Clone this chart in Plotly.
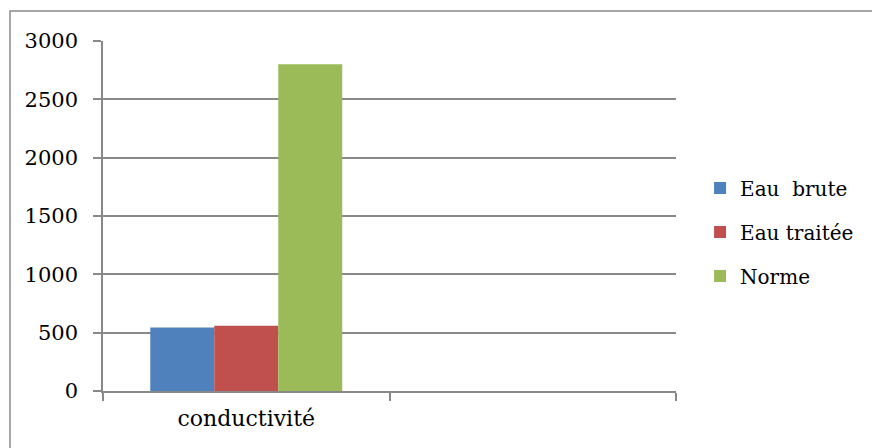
import plotly.graph_objects as go

# Categories and measured values
categories = ["conductivité", " "]
eau_brute = [545, None]
eau_traitee = [560, None]
norme = [2800, None]

series_names = ["Eau  brute", "Eau traitée", "Norme"]
series_values = [eau_brute, eau_traitee, norme]
series_colors = ["#4F81BD", "#C0504D", "#9BBB59"]

y_ticks = [0, 500, 1000, 1500, 2000, 2500, 3000]

GRID = "#898989"
FONT = "DejaVu Serif"

fig = go.Figure()
for name, vals, col in zip(series_names, series_values, series_colors):
    fig.add_trace(go.Bar(
        x=categories, y=vals, name=name,
        marker=dict(color=col, line=dict(width=0)),
        legendgroup=name,
    ))

fig.update_layout(
    width=872, height=448,
    margin=dict(l=103, r=196, t=41, b=57, autoexpand=False),
    paper_bgcolor="white", plot_bgcolor="white",
    barmode="group", bargap=0.33, bargroupgap=0,
    font=dict(family=FONT, size=21, color="black"),
    showlegend=True,
    legend=dict(
        x=1.042, y=0.454, xanchor="left", yanchor="middle",
        font=dict(family=FONT, size=20, color="black"),
        traceorder="grouped", tracegroupgap=15,
        bgcolor="rgba(0,0,0,0)", itemwidth=30,
    ),
    xaxis=dict(
        type="category", categoryorder="array", categoryarray=categories,
        showgrid=False, showline=True, linecolor=GRID, linewidth=1.5,
        ticks="outside", tickson="boundaries", ticklen=8, tickcolor=GRID, tickwidth=1.5,
        tickfont=dict(family=FONT, size=22), ticklabelstandoff=7,
        zeroline=False,
    ),
    yaxis=dict(
        range=[0, 3000], tickvals=y_ticks,
        showgrid=True, gridcolor=GRID, gridwidth=1.5,
        showline=True, linecolor=GRID, linewidth=1.5,
        ticks="outside", ticklen=8, tickcolor=GRID, tickwidth=1.5,
        tickfont=dict(family=FONT, size=21), ticklabelstandoff=11,
        zeroline=False,
    ),
    shapes=[dict(
        type="rect", xref="paper", yref="paper",
        x0=-0.1623, y0=-1.0, x1=2.0, y1=1.0857,
        line=dict(color=GRID, width=1.5), layer="below",
    )],
)

fig.write_html("out.html")
